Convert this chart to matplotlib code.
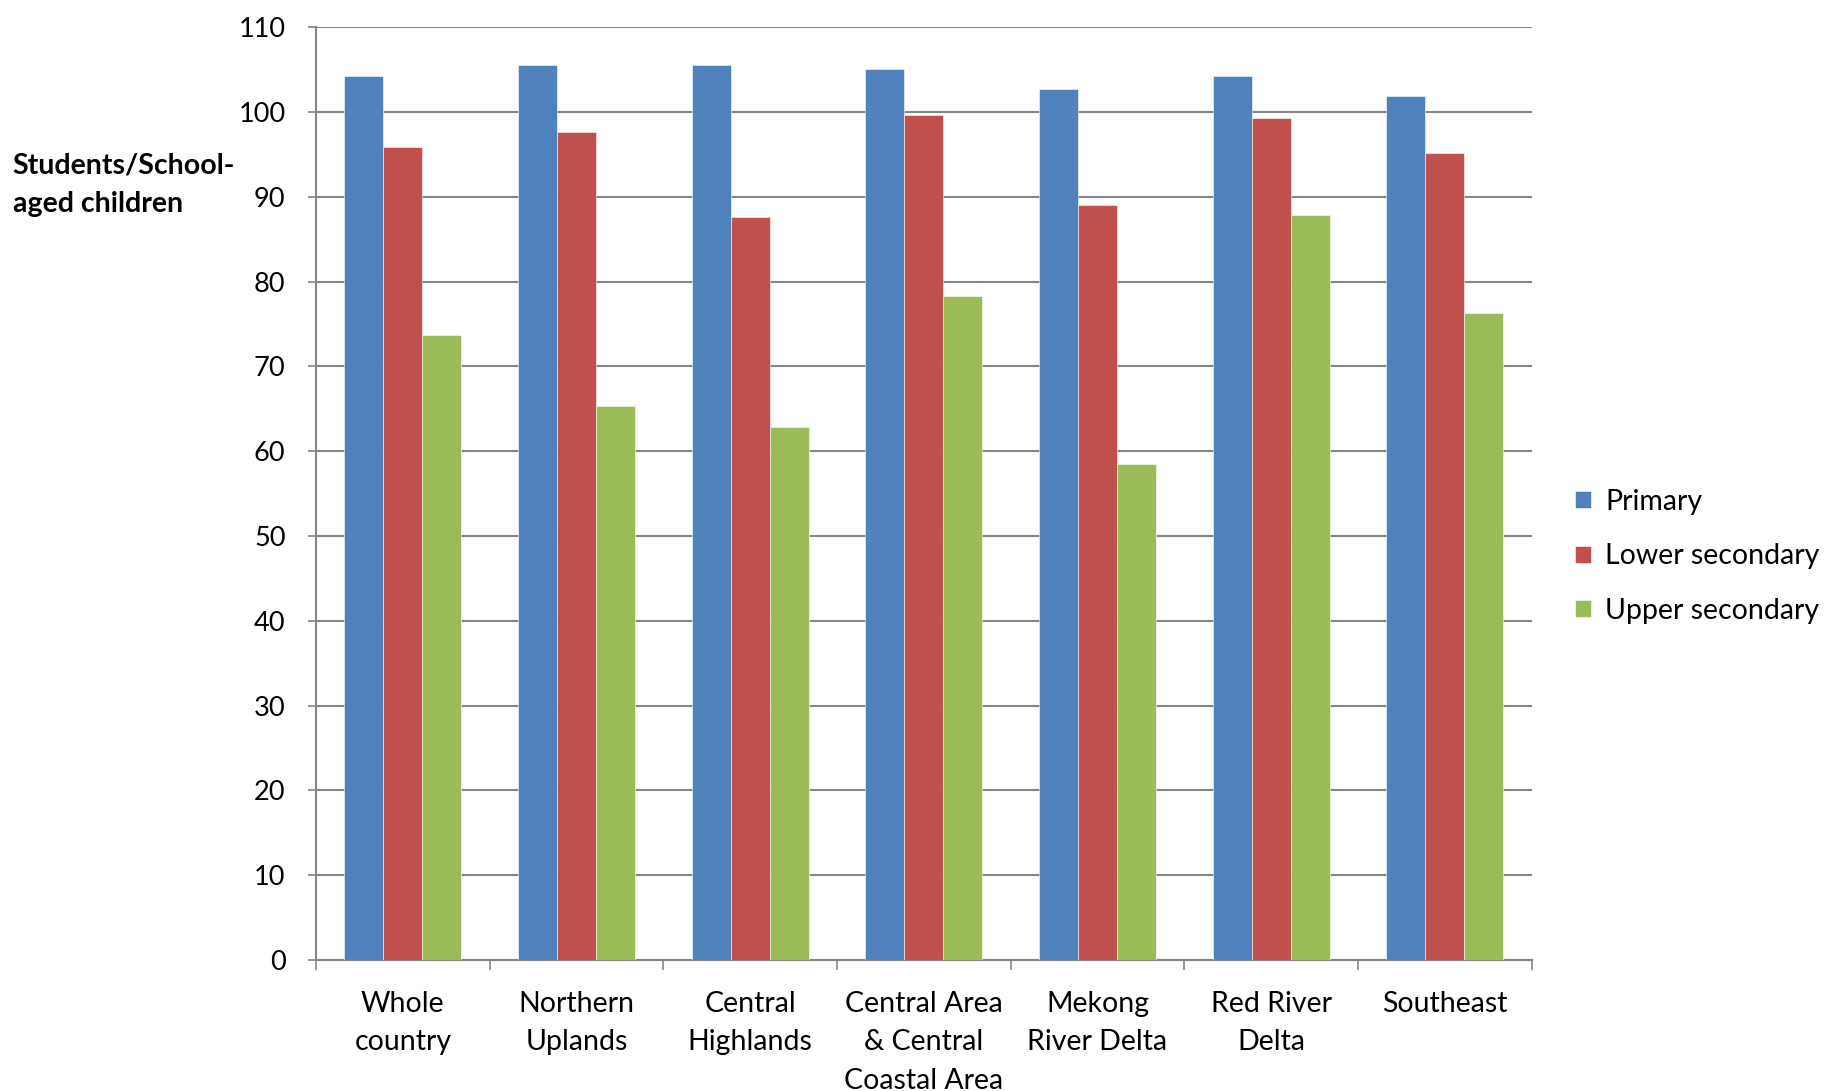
import numpy as np
import matplotlib.pyplot as plt

# Datos
regions = ['Whole\ncountry', 'Northern\nUplands', 'Central\nHighlands',
           'Central Area\n& Central\nCoastal Area', 'Mekong\nRiver Delta',
           'Red River\nDelta', 'Southeast']
primary = [104.2, 105.5, 105.6, 105.1, 102.7, 104.2, 101.9]
lower_secondary = [95.9, 97.6, 87.6, 99.6, 89.0, 99.3, 95.2]
upper_secondary = [73.7, 65.3, 62.9, 78.3, 58.5, 87.9, 76.3]

series = [('Primary', primary, '#4F81BD'),
          ('Lower secondary', lower_secondary, '#C0504D'),
          ('Upper secondary', upper_secondary, '#9BBB59')]

plt.rcParams['font.family'] = ['Lato', 'DejaVu Sans']
fs = 20.5

fig = plt.figure(figsize=(18.3, 10.91), dpi=100)
ax = fig.add_axes([0.1727, 0.12, 0.837 - 0.1727, 0.855])

x = np.arange(len(regions))
w = 0.225
for i, (name, vals, col) in enumerate(series):
    ax.bar(x + (i - 1) * w, vals, width=w, color=col, label=name,
           edgecolor='white', linewidth=0.4, zorder=3)

ax.set_xlim(-0.5, len(regions) - 0.5)
ax.set_ylim(0, 110)
ax.set_yticks(np.arange(0, 111, 10))
ax.yaxis.grid(True, color='#868686', linewidth=1.5, zorder=0)

ax.set_xticks(x)
ax.set_xticklabels(regions, fontsize=fs, linespacing=1.6)
ax.set_xticks(np.arange(-0.5, len(regions)), minor=True)
ax.tick_params(axis='x', which='major', length=0, pad=22)
ax.tick_params(axis='x', which='minor', length=7, width=1.2, color='#868686')
ax.tick_params(axis='y', labelsize=19.5, length=6, width=1.2, color='#868686', pad=16)

for s in ['top', 'right']:
    ax.spines[s].set_visible(False)
for s in ['left', 'bottom']:
    ax.spines[s].set_color('#868686')
    ax.spines[s].set_linewidth(1.5)

fig.text(0.007, 0.831, 'Students/School-\naged children', fontsize=fs,
         fontweight='bold', ha='left', va='center', linespacing=1.6)

ax.legend(loc='center left', bbox_to_anchor=(0.8467, 0.49), bbox_transform=fig.transFigure,
          frameon=False, fontsize=fs, handlelength=0.55, handleheight=0.55,
          handletextpad=0.5, labelspacing=1.0)

fig.savefig('out.png', dpi=100)
